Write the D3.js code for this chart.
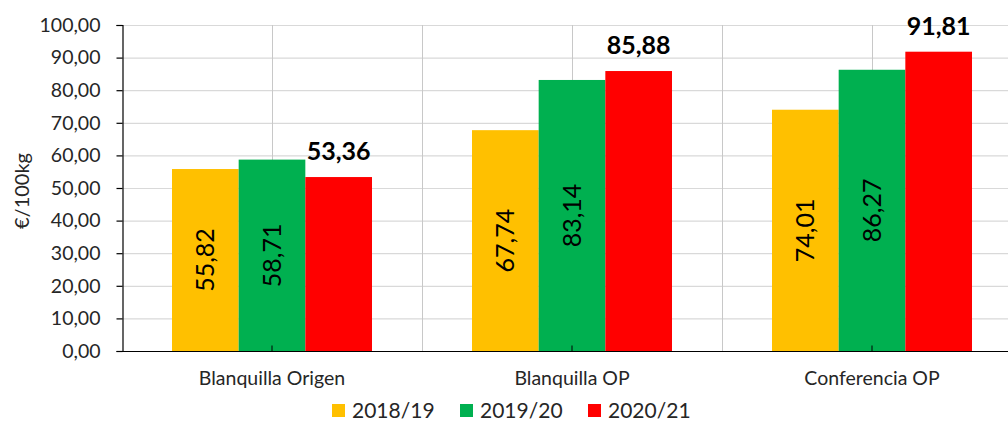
<!DOCTYPE html>
<html>
<head>
<meta charset="utf-8">
<script src="https://cdn.jsdelivr.net/npm/d3@7"></script>
<style>
  html, body { margin: 0; padding: 0; background: #fff; }
  svg { display: block; }
  text { font-family: Lato, "Open Sans", sans-serif; }
</style>
</head>
<body>
<svg id="chart" width="1008" height="421"></svg>
<script>
const categories = ["Blanquilla Origen", "Blanquilla OP", "Conferencia OP"];
const seriesNames = ["2018/19", "2019/20", "2020/21"];
const values2018 = [55.82, 67.74, 74.01];
const values2019 = [58.71, 83.14, 86.27];
const values2020 = [53.36, 85.88, 91.81];
const colors = ["#FFC000", "#00B050", "#FF0000"];
const yTicks = [0, 10, 20, 30, 40, 50, 60, 70, 80, 90, 100];
const yTitle = "€/100kg";

const seriesValues = [values2018, values2019, values2020];
const svg = d3.select("#chart");
const W = 1008, H = 421;
const mLeft = 122, plotRight = 1022, mTop = 25, mBottom = 351;

const x = d3.scaleBand().domain(categories).range([mLeft, plotRight]).paddingInner(0).paddingOuter(0);
const xs = d3.scaleBand().domain(seriesNames).range([0, x.bandwidth()]).paddingInner(0).paddingOuter(0.75);
const y = d3.scaleLinear().domain([0, 100]).range([mBottom, mTop]);
const fmt = v => d3.format(".2f")(v).replace(".", ",");

// horizontal gridlines
svg.append("g").selectAll("line").data(yTicks.filter(t => t > 0)).join("line")
  .attr("x1", mLeft).attr("x2", W)
  .attr("y1", d => y(d) + 0.5).attr("y2", d => y(d) + 0.5)
  .attr("stroke", "#d9d9d9").attr("stroke-width", 1.2);

// vertical gridlines at category centers and boundaries
const vlines = [];
categories.forEach(c => { vlines.push(x(c) + x.bandwidth() / 2); vlines.push(x(c) + x.bandwidth()); });
svg.append("g").selectAll("line").data(vlines.filter(v => v < W)).join("line")
  .attr("x1", d => Math.round(d) + 0.5).attr("x2", d => Math.round(d) + 0.5)
  .attr("y1", mTop).attr("y2", mBottom)
  .attr("stroke", "#c8c8c8").attr("stroke-width", 1);

// bars
const flat = [];
categories.forEach((c, i) => seriesNames.forEach((s, j) => flat.push({ c, s, j, v: seriesValues[j][i] })));
svg.append("g").selectAll("rect").data(flat).join("rect")
  .attr("x", d => x(d.c) + xs(d.s))
  .attr("width", xs.bandwidth())
  .attr("y", d => y(d.v))
  .attr("height", d => y(0) - y(d.v))
  .attr("fill", d => colors[d.j]);

// data labels: rotated inside for first two series, bold above for last
svg.append("g").selectAll("text").data(flat.filter(d => d.j < 2)).join("text")
  .attr("transform", d => `translate(${x(d.c) + xs(d.s) + xs.bandwidth() / 2},${(y(d.v) + y(0)) / 2}) rotate(-90)`)
  .attr("text-anchor", "middle").attr("dy", "0.36em")
  .attr("font-size", 25).attr("fill", "#000")
  .text(d => fmt(d.v));
svg.append("g").selectAll("text").data(flat.filter(d => d.j === 2)).join("text")
  .attr("x", d => x(d.c) + xs(d.s) + xs.bandwidth() / 2)
  .attr("y", d => y(d.v) - 17)
  .attr("text-anchor", "middle")
  .attr("font-size", 25).attr("font-weight", "bold").attr("fill", "#000")
  .text(d => fmt(d.v));

// y axis
const yAxis = svg.append("g").attr("transform", `translate(${mLeft + 0.5},0)`)
  .call(d3.axisLeft(y).tickValues(yTicks).tickSize(6).tickPadding(16).tickFormat(fmt));
yAxis.select(".domain").attr("stroke", "#000").attr("stroke-width", 1.2);
yAxis.selectAll(".tick line").attr("stroke", "#000").attr("stroke-width", 1.2);
yAxis.selectAll(".tick text").attr("font-size", 19.5).attr("fill", "#262626")
  .attr("font-family", "Lato, sans-serif");

// x axis
const xAxis = svg.append("g").attr("transform", `translate(0,${mBottom + 0.5})`)
  .call(d3.axisBottom(x).tickSize(0).tickPadding(0));
xAxis.select(".domain").remove();
xAxis.append("line").attr("x1", mLeft).attr("x2", W).attr("y1", 0).attr("y2", 0)
  .attr("stroke", "#000").attr("stroke-width", 1.2);
xAxis.selectAll(".tick").append("line").attr("y1", 0).attr("y2", -6)
  .attr("stroke", "#000").attr("stroke-width", 1);
xAxis.selectAll(".tick text").attr("y", 33.5).attr("dy", null)
  .attr("font-size", 19.5).attr("fill", "#262626").attr("font-family", "Lato, sans-serif");

// y title
svg.append("text")
  .attr("transform", `translate(29,191) rotate(-90)`)
  .attr("text-anchor", "middle")
  .attr("font-size", 20).attr("fill", "#262626")
  .text(yTitle);

// legend
const legendX = [332, 460, 588];
const lg = svg.append("g").selectAll("g").data(seriesNames).join("g")
  .attr("transform", (d, i) => `translate(${legendX[i]},0)`);
lg.append("rect").attr("x", 0).attr("y", 404).attr("width", 13).attr("height", 13)
  .attr("fill", (d, i) => colors[i]);
lg.append("text").attr("x", 20).attr("y", 417.5)
  .attr("font-size", 21).attr("fill", "#262626")
  .text(d => d);
</script>
</body>
</html>
